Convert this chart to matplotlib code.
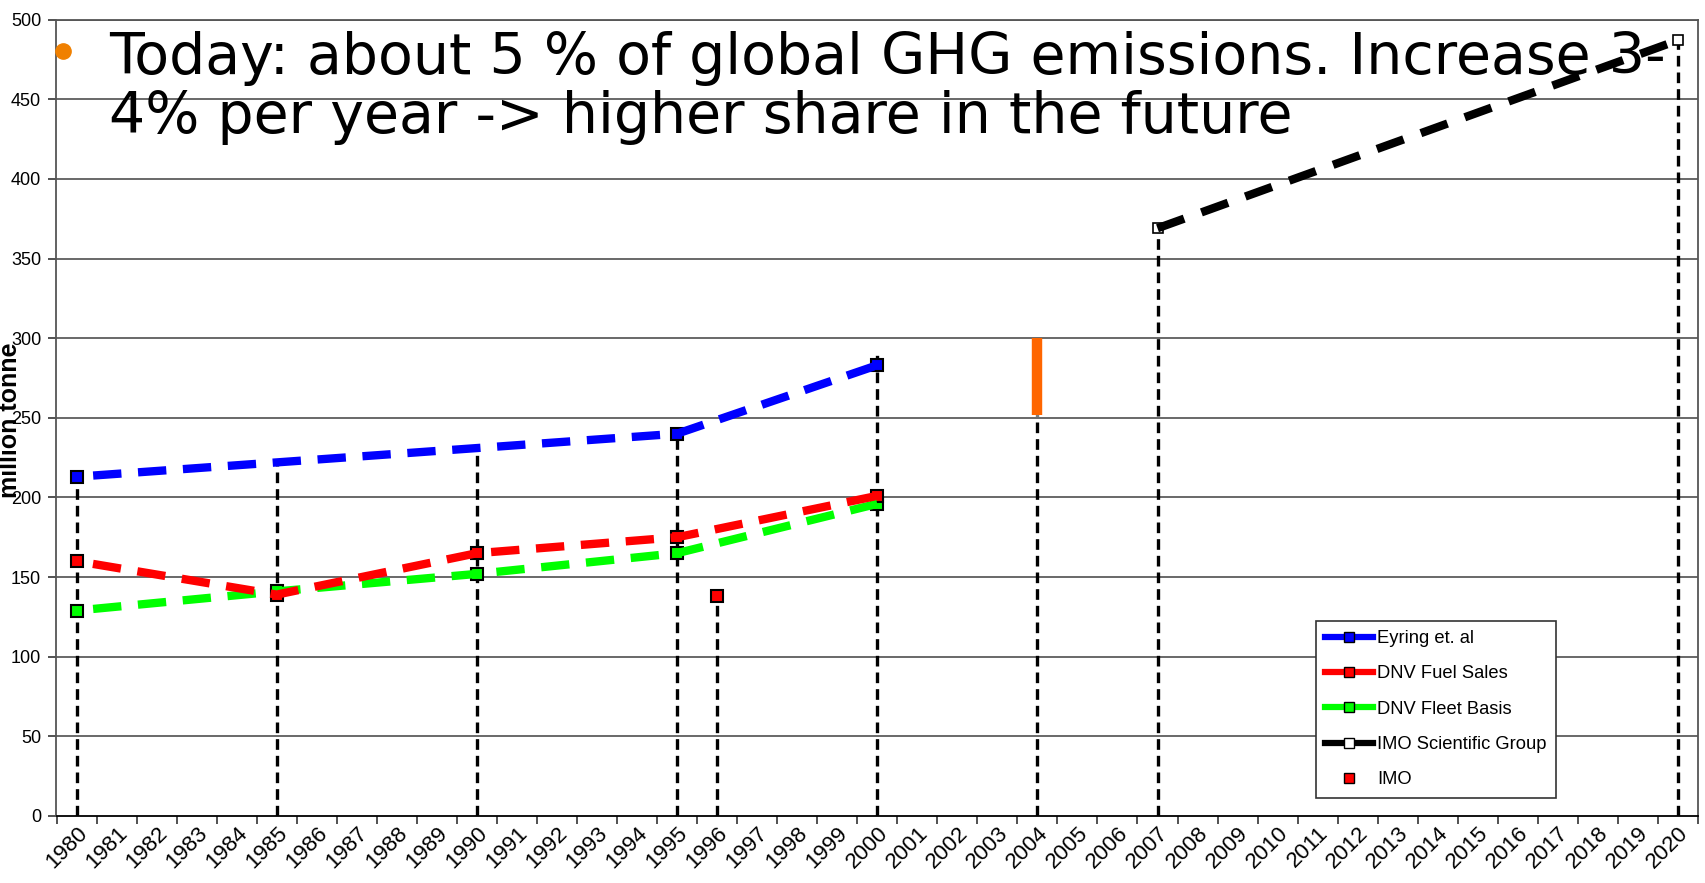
import matplotlib
matplotlib.use("Agg")
import matplotlib.pyplot as plt
from matplotlib.lines import Line2D
from matplotlib.transforms import ScaledTranslation

# ───── DATA ─────
years = list(range(1980, 2021))

eyring_years = [1980, 1995, 2000]
eyring = [213, 240, 283]

dnv_years = [1980, 1985, 1990, 1995, 2000]
dnv_fuel = [160, 139, 165, 175, 201]
dnv_fleet = [129, 141, 152, 165, 196]

imo_sg_years = [2007, 2020]
imo_sg = [369, 487]

imo_years = [1996]
imo = [138]

range_year = 2004
range_low, range_high = 252, 300

drop_years = [1980, 1985, 1990, 1995, 1996, 2000, 2004, 2007, 2020]
drop_tops = [213, 221, 230, 240, 138, 290, 252, 369, 487]

note_1 = "Today: about 5 % of global GHG emissions. Increase 3-"
note_2 = "4% per year -> higher share in the future"

# ───── FIGURE ─────
W, H = 1705, 883
fig = plt.figure(figsize=(W / 100, H / 100), dpi=100)
ax = fig.add_axes([56.5 / W, 1 - 816 / H, (1698 - 56.5) / W, (816 - 19.6) / H])

def pos(ys):
    return [y - 1980 for y in ys]

# grid
for v in range(50, 501, 50):
    ax.axhline(v, color="#404040", lw=1.1, zorder=0)

# drop lines
ax.vlines(pos(drop_years), 0, drop_tops, colors="black", lw=2.4,
          linestyles=(0, (3.2, 1.8)), zorder=2)

# orange range bar
ax.vlines(range_year - 1980, range_low, range_high, colors="#FF6600", lw=7.5, zorder=3)

dash = (3.4, (3.4, 2.0))
mk = dict(marker="s", ms=9, mec="black", mew=1.5, ls="none", zorder=3)

# markers (behind lines)
ax.plot(pos(eyring_years), eyring, mfc="#0000FF", **mk)
ax.plot(pos(dnv_years), dnv_fleet, mfc="#00FF00", **mk)
ax.plot(pos(dnv_years), dnv_fuel, mfc="#FF0000", **mk)
ax.plot(pos(imo_sg_years), imo_sg, marker="s", ms=7, mec="black", mew=1.2,
        mfc="white", ls="none", zorder=3)
ax.plot(pos(imo_years), imo, mfc="#FF0000", **mk)

# dashed lines
ax.plot(pos(eyring_years), eyring, color="#0000FF", lw=6, ls=dash,
        dash_capstyle="butt", zorder=4)
ax.plot(pos(dnv_years), dnv_fleet, color="#00FF00", lw=6, ls=dash,
        dash_capstyle="butt", zorder=4)
ax.plot(pos(dnv_years), dnv_fuel, color="#FF0000", lw=6, ls=dash,
        dash_capstyle="butt", zorder=4)
ax.plot(pos(imo_sg_years), imo_sg, color="black", lw=6, ls=(0, (3.4, 2.2)),
        dash_capstyle="butt", zorder=4)

# axes
ax.set_xlim(-0.5, len(years) - 0.5)
ax.set_ylim(0, 500)
ax.set_xticks([i - 0.5 for i in range(len(years) + 1)])
ax.set_xticklabels([])
ax.set_xticks(range(len(years)), minor=True)
ax.set_xticklabels([str(y) for y in years], minor=True, rotation=45,
                   ha="right", va="top", rotation_mode="anchor", fontsize=16,
                   family="Liberation Sans")
shift = ScaledTranslation(5 / 100, 0, fig.dpi_scale_trans)
for lab in ax.get_xticklabels(minor=True):
    lab.set_transform(lab.get_transform() + shift)
ax.tick_params(axis="x", which="minor", length=0, pad=5)
ax.tick_params(axis="x", which="major", length=6, width=1.2, color="#333333")
ax.set_yticks(range(0, 501, 50))
ax.set_yticklabels([str(v) for v in range(0, 501, 50)], fontsize=13,
                   family="Liberation Sans")
ax.tick_params(axis="y", length=6, width=1.2, color="#333333", pad=5)
for s in ax.spines.values():
    s.set_color("#555555")
    s.set_linewidth(1.3)
ax.spines["bottom"].set_color("black")

# y label, partly outside the figure as in the source
fig.text(22 / W, 1 - 420 / H, "million tonne", rotation=90, fontsize=18,
         fontweight="bold", family="Liberation Sans", ha="right", va="center")

# legend
handles = [
    Line2D([], [], color="#0000FF", lw=4.5, marker="s", ms=7, mfc="#0000FF", mec="black"),
    Line2D([], [], color="#FF0000", lw=4.5, marker="s", ms=7, mfc="#FF0000", mec="black"),
    Line2D([], [], color="#00FF00", lw=4.5, marker="s", ms=7, mfc="#00FF00", mec="black"),
    Line2D([], [], color="black", lw=4.5, marker="s", ms=7, mfc="white", mec="black"),
    Line2D([], [], ls="none", marker="s", ms=7, mfc="#FF0000", mec="black"),
]
labels = ["Eyring et. al", "DNV Fuel Sales", "DNV Fleet Basis",
          "IMO Scientific Group", "IMO"]
leg = fig.legend(handles, labels, loc="upper left",
                 bbox_to_anchor=(1316 / W, 1 - 621 / H), borderaxespad=0,
                 fancybox=False, framealpha=1, edgecolor="#333333",
                 prop={"family": "Liberation Sans", "size": 13.2},
                 handlelength=2.6, handletextpad=0.25, labelspacing=1.0,
                 borderpad=0.5)
leg.get_frame().set_linewidth(1.2)

# bullet note on top
fig.add_artist(Line2D([63 / W], [1 - 51 / H], marker="o", ms=11, color="#F08000",
                      ls="none", transform=fig.transFigure))
fig.text(109 / W, 1 - 74 / H, note_1, fontsize=41, family="DejaVu Sans",
         va="baseline")
fig.text(109 / W, 1 - 133 / H, note_2, fontsize=41, family="DejaVu Sans",
         va="baseline")

fig.savefig("out.png", dpi=100)
